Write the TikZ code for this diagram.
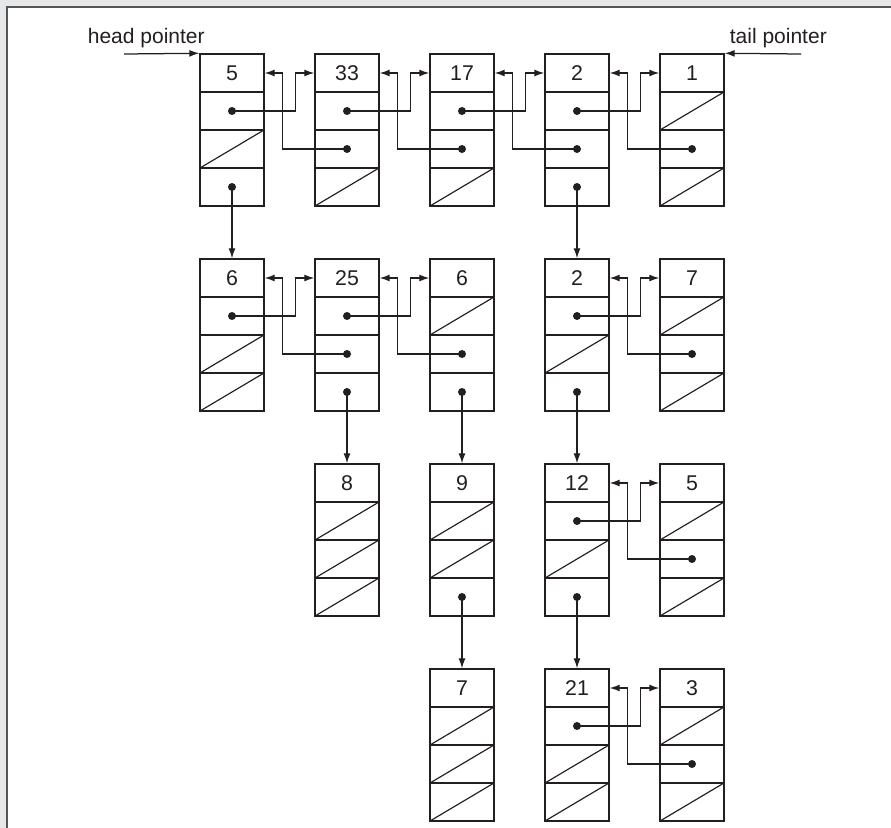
\documentclass[tikz,border=0pt]{standalone}
\usepackage{fontspec}
\setmainfont{Liberation Sans}
\usepackage{tikz}
\usetikzlibrary{arrows.meta,calc}
\definecolor{panelgray}{RGB}{230,231,232}
\definecolor{framegray}{RGB}{85,85,85}
\definecolor{inkgray}{RGB}{35,31,32}

\begin{document}
\begin{tikzpicture}[
  x=0.6pt,y=0.6pt,
  cell/.style={draw=inkgray,line width=0.85pt,minimum width=38.4pt,minimum height=22.8pt,
    inner sep=0pt,text=inkgray,font=\fontsize{12.8}{15}\selectfont},
  slash/.style={path picture={\draw[inkgray,line width=0.7pt] (path picture bounding box.south west)
    -- (path picture bounding box.north east);}},
  dot/.style={path picture={\fill[inkgray] (path picture bounding box.center) circle (2.4pt);}},
  pics/record/.style n args={4}{code={
    \node[cell] (-k) at (0,0) {#1};
    \node[cell,#2] (-n) at (0,-38) {};
    \node[cell,#3] (-p) at (0,-76) {};
    \node[cell,#4] (-c) at (0,-114) {};
  }},
  ptr/.style={-{Latex[length=6pt,width=4.2pt]},line width=0.75pt,draw=inkgray},
  lbl/.style={text=inkgray,font=\fontsize{12.6}{15}\selectfont}
]
\useasboundingbox (0,0) rectangle (891,-828);
\fill[panelgray] (0,0) rectangle (891,-828);
\draw[framegray,line width=1.2pt,fill=white] (7,-7) rectangle (900,-840);

% row 1
\pic (n11) at (232,-73) {record={5}{dot}{slash}{dot}};
\pic (n12) at (347,-73) {record={33}{dot}{dot}{slash}};
\pic (n13) at (462,-73) {record={17}{dot}{dot}{slash}};
\pic (n14) at (577,-73) {record={2}{dot}{dot}{dot}};
\pic (n15) at (692,-73) {record={1}{slash}{dot}{slash}};
% row 2
\pic (n21) at (232,-278) {record={6}{dot}{slash}{slash}};
\pic (n22) at (347,-278) {record={25}{dot}{dot}{dot}};
\pic (n23) at (462,-278) {record={6}{slash}{dot}{dot}};
\pic (n24) at (577,-278) {record={2}{dot}{slash}{dot}};
\pic (n25) at (692,-278) {record={7}{slash}{dot}{slash}};
% row 3
\pic (n32) at (347,-483) {record={8}{slash}{slash}{slash}};
\pic (n33) at (462,-483) {record={9}{slash}{slash}{dot}};
\pic (n34) at (577,-483) {record={12}{dot}{slash}{dot}};
\pic (n35) at (692,-483) {record={5}{slash}{dot}{slash}};
% row 4
\pic (n43) at (462,-688) {record={7}{slash}{slash}{slash}};
\pic (n44) at (577,-688) {record={21}{dot}{slash}{slash}};
\pic (n45) at (692,-688) {record={3}{slash}{dot}{slash}};

\node[lbl,anchor=base west] (headlbl) at (82,-43) {head pointer};
\node[lbl,anchor=base west] (taillbl) at (724,-43) {tail pointer};
\coordinate (headstart) at (124,-54);
\coordinate (tailstart) at (801,-54);
\draw[ptr] (headstart) -- (n11-k.north west);
\draw[ptr] (tailstart) -- (n15-k.north east);

% next / prev links
\draw[ptr] (n11-n.center) -| ($(n12-k.west)+(-19,0)$) -- (n12-k.west);
\draw[ptr] (n12-p.center) -| ($(n11-k.east)+(18,0)$) -- (n11-k.east);
\draw[ptr] (n12-n.center) -| ($(n13-k.west)+(-19,0)$) -- (n13-k.west);
\draw[ptr] (n13-p.center) -| ($(n12-k.east)+(18,0)$) -- (n12-k.east);
\draw[ptr] (n13-n.center) -| ($(n14-k.west)+(-19,0)$) -- (n14-k.west);
\draw[ptr] (n14-p.center) -| ($(n13-k.east)+(18,0)$) -- (n13-k.east);
\draw[ptr] (n14-n.center) -| ($(n15-k.west)+(-19,0)$) -- (n15-k.west);
\draw[ptr] (n15-p.center) -| ($(n14-k.east)+(18,0)$) -- (n14-k.east);
\draw[ptr] (n21-n.center) -| ($(n22-k.west)+(-19,0)$) -- (n22-k.west);
\draw[ptr] (n22-p.center) -| ($(n21-k.east)+(18,0)$) -- (n21-k.east);
\draw[ptr] (n22-n.center) -| ($(n23-k.west)+(-19,0)$) -- (n23-k.west);
\draw[ptr] (n23-p.center) -| ($(n22-k.east)+(18,0)$) -- (n22-k.east);
\draw[ptr] (n24-n.center) -| ($(n25-k.west)+(-19,0)$) -- (n25-k.west);
\draw[ptr] (n25-p.center) -| ($(n24-k.east)+(18,0)$) -- (n24-k.east);
\draw[ptr] (n34-n.center) -| ($(n35-k.west)+(-19,0)$) -- (n35-k.west);
\draw[ptr] (n35-p.center) -| ($(n34-k.east)+(18,0)$) -- (n34-k.east);
\draw[ptr] (n44-n.center) -| ($(n45-k.west)+(-19,0)$) -- (n45-k.west);
\draw[ptr] (n45-p.center) -| ($(n44-k.east)+(18,0)$) -- (n44-k.east);

% child links
\draw[ptr] (n11-c.center) -- (n21-k.north);
\draw[ptr] (n14-c.center) -- (n24-k.north);
\draw[ptr] (n22-c.center) -- (n32-k.north);
\draw[ptr] (n23-c.center) -- (n33-k.north);
\draw[ptr] (n24-c.center) -- (n34-k.north);
\draw[ptr] (n33-c.center) -- (n43-k.north);
\draw[ptr] (n34-c.center) -- (n44-k.north);
\end{tikzpicture}
\end{document}
